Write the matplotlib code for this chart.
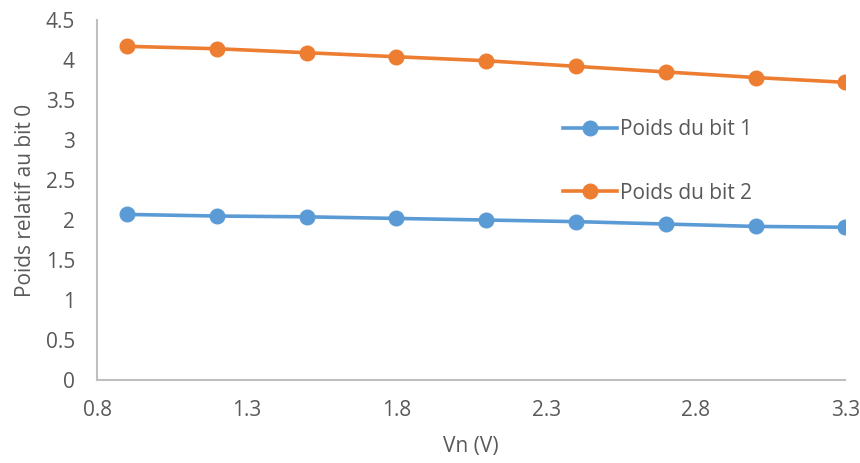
import matplotlib.pyplot as plt

# Relative bit weights vs supply voltage Vn
vn = [0.9, 1.2, 1.5, 1.8, 2.1, 2.4, 2.7, 3.0, 3.3]
bit1 = [2.07, 2.05, 2.04, 2.02, 2.00, 1.98, 1.95, 1.92, 1.91]
bit2 = [4.17, 4.14, 4.09, 4.04, 3.99, 3.92, 3.85, 3.78, 3.72]
xticks = [0.8, 1.3, 1.8, 2.3, 2.8, 3.3]
yticks = [0, 0.5, 1, 1.5, 2, 2.5, 3, 3.5, 4, 4.5]

plt.rcParams['font.family'] = ['Open Sans', 'DejaVu Sans']
grey = '#595959'

fig = plt.figure(figsize=(8.6, 4.63), dpi=100)
ax = fig.add_axes([0.113, 0.179, 0.87, 0.778])

ax.plot(vn, bit1, color='#5B9BD5', lw=2.6, marker='o', ms=10.5, label='Poids du bit 1')
ax.plot(vn, bit2, color='#ED7D31', lw=2.6, marker='o', ms=10.5, label='Poids du bit 2')

ax.set_xlim(0.8, 3.3)
ax.set_ylim(0, 4.5)
ax.set_xticks(xticks)
ax.set_xticklabels([f'{t:g}' for t in xticks])
ax.set_yticks(yticks)
ax.set_yticklabels([f'{t:g}' for t in yticks])
ax.tick_params(length=0, labelsize=15, labelcolor=grey)
ax.tick_params(axis='y', pad=16)
ax.tick_params(axis='x', pad=14)
for side in ['top', 'right']:
    ax.spines[side].set_visible(False)
for side in ['left', 'bottom']:
    ax.spines[side].set_color('#BFBFBF')
    ax.spines[side].set_linewidth(1.5)
for lbl in ax.get_xticklabels() + ax.get_yticklabels():
    lbl.set_clip_on(False)

ax.set_xlabel('Vn (V)', fontsize=15, color=grey, labelpad=11)
ax.set_ylabel('Poids relatif au bit 0', fontsize=15, color=grey, labelpad=7)

ax.legend(loc='upper left', bbox_to_anchor=(0.622, 0.725), frameon=False,
          fontsize=15, labelcolor=grey, handlelength=2.6, handletextpad=0.15,
          labelspacing=2.05, borderpad=0, borderaxespad=0)

fig.savefig('out.png', dpi=100)
